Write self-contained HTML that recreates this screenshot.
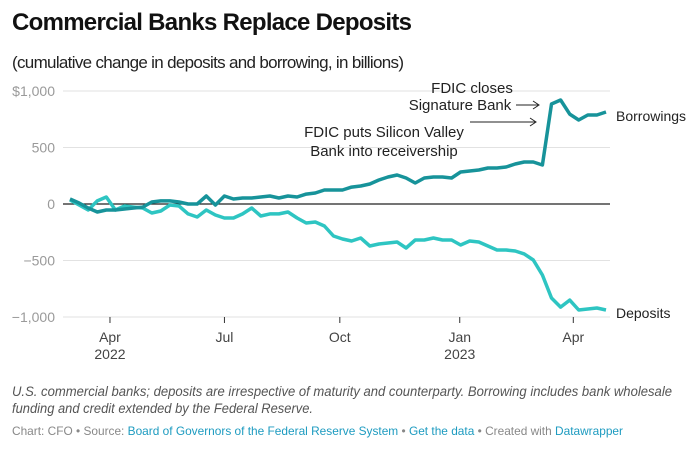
<!DOCTYPE html>
<html><head><meta charset="utf-8"><style>
body{margin:0;background:#fff;width:700px;height:450px;overflow:hidden;font-family:"Liberation Sans",sans-serif}
svg text{font-family:"Liberation Sans",sans-serif}
</style></head><body>
<svg id="c" width="700" height="450">
<text x="12" y="30" font-size="24" font-weight="bold" fill="#111" textLength="400">Commercial Banks Replace Deposits</text>
<text x="12" y="68" font-size="17" fill="#222" textLength="392">(cumulative change in deposits and borrowing, in billions)</text>
<g id="grid"></g><g id="lines"></g>
<g>
<text x="472" y="93" font-size="15" fill="#222" text-anchor="middle">FDIC closes</text>
<text x="460" y="110" font-size="15" fill="#222" text-anchor="middle">Signature Bank</text>
<line x1="516" y1="105" x2="538" y2="105" stroke="#222"/><path d="M533,101 L539,105 L533,109" fill="none" stroke="#222"/>
</g>
<g>
<text x="384" y="137" font-size="15" fill="#222" text-anchor="middle">FDIC puts Silicon Valley</text>
<text x="384" y="156" font-size="15" fill="#222" text-anchor="middle">Bank into receivership</text>
<line x1="470" y1="122" x2="535" y2="122" stroke="#222"/><path d="M530,118 L536,122 L530,126" fill="none" stroke="#222"/>
</g>
<text x="616" y="121" font-size="14" fill="#222">Borrowings</text>
<text x="616" y="318" font-size="14" fill="#222">Deposits</text>
<text x="12" y="396" font-size="13.5" font-style="italic" fill="#555" textLength="660" lengthAdjust="spacingAndGlyphs">U.S. commercial banks; deposits are irrespective of maturity and counterparty. Borrowing includes bank wholesale</text>
<text x="12" y="413" font-size="13.5" font-style="italic" fill="#555" textLength="301" lengthAdjust="spacingAndGlyphs">funding and credit extended by the Federal Reserve.</text>
<text x="12" y="435" font-size="12" fill="#888" textLength="611" lengthAdjust="spacingAndGlyphs">Chart: CFO • Source: <tspan fill="#1d9bc0">Board of Governors of the Federal Reserve System</tspan> • <tspan fill="#1d9bc0">Get the data</tspan> • Created with <tspan fill="#1d9bc0">Datawrapper</tspan></text>
</svg>
<script>
const borrowings=[44,9,-35,-71,-53,-53,-44,-35,-27,18,27,27,18,0,0,71,-9,71,44,53,53,62,71,53,71,62,88,97,124,124,124,150,159,177,212,239,257,230,186,230,239,239,230,283,292,301,319,319,327,354,372,372,345,885,920,796,743,788,788,814];
const deposits=[35,-9,-53,27,62,-53,-18,-27,-35,-80,-62,-9,-18,-88,-115,-53,-97,-124,-124,-88,-35,-106,-88,-88,-71,-124,-168,-159,-195,-283,-310,-327,-301,-372,-354,-345,-336,-389,-319,-319,-301,-319,-319,-363,-327,-336,-372,-407,-407,-416,-442,-496,-628,-832,-912,-850,-938,-929,-920,-938];
const yTicks=[1000,500,0,-500,-1000];
const yTickLabels=["$1,000","500","0","−500","−1,000"];
const xTickIdx=[4.4,17,29.7,42.9,55.4];
const xTickLabels=["Apr","Jul","Oct","Jan","Apr"];
const xTickYears=["2022","","","2023",""];
const ns="http://www.w3.org/2000/svg";
const x=i=>70+i*(536/59);
const y=v=>204-v*0.113;
function mk(t,a,p){const e=document.createElementNS(ns,t);for(const k in a)e.setAttribute(k,a[k]);p.appendChild(e);return e;}
const g=document.getElementById('grid');
yTicks.forEach((v,i)=>{
 const l=mk('line',{x1:63,x2:610,y1:y(v),y2:y(v),stroke:v===0?'#222':'#e2e2e2','stroke-width':v===0?1.3:1},g);
 
 
 const t=mk('text',{x:55,y:y(v)+5,'font-size':14,fill:'#9a9a9a','text-anchor':'end'},g);
 t.textContent=yTickLabels[i];
 
 
});
xTickIdx.forEach((v,i)=>{
 const l=mk('line',{x1:x(v),x2:x(v),y1:317,y2:323,stroke:'#333'},g);
 
 
 const t=mk('text',{x:x(v),y:342,'font-size':14,fill:'#444','text-anchor':'middle'},g);
 t.textContent=xTickLabels[i];
 
 
 if(xTickYears[i]){const t2=mk('text',{x:x(v),y:359,'font-size':14,fill:'#444','text-anchor':'middle'},g);
 t2.textContent=xTickYears[i];
 
 }
});
const L=document.getElementById('lines');
[[deposits,'#2ec5c2','deposits-line'],[borrowings,'#17939a','borrowings-line']].forEach(([d,c,n])=>{
 const p=mk('path',{d:d.map((v,i)=>(i?'L':'M')+x(i).toFixed(1)+','+y(v).toFixed(1)).join(''),fill:'none',stroke:c,'stroke-width':3.5,'stroke-linejoin':'round'},L);
 
 
});
</script>
</body></html>
